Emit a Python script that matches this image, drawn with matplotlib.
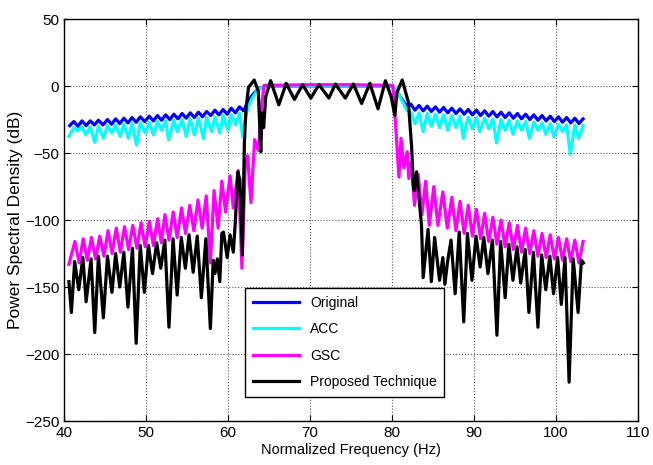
import matplotlib
matplotlib.use('Agg')
import matplotlib.pyplot as plt

plt.rcParams['font.family'] = ['Liberation Sans', 'DejaVu Sans']

# Original
blue_x = [40.7, 41.2, 41.7, 42.2, 42.7, 43.2, 43.7, 44.2, 44.75, 45.3, 45.8, 46.3, 46.8, 47.3, 47.8,
          48.3, 48.8, 49.3, 49.85, 50.4, 50.9, 51.4, 51.9, 52.4, 52.9, 53.4, 53.9, 54.4, 54.9, 55.4,
          55.9, 56.4, 56.9, 57.4, 57.9, 58.4, 58.9, 59.4, 59.9, 60.4, 60.9, 61.4, 61.9, 62.3, 62.8,
          63.3, 63.8, 64.4, 65.0, 70.0, 75.0, 80.0, 80.4, 80.9, 81.4, 81.8, 82.3, 82.8, 83.3, 83.8,
          84.3, 84.8, 85.3, 85.8, 86.3, 86.8, 87.3, 87.8, 88.3, 88.8, 89.3, 89.8, 90.3, 90.8, 91.3,
          91.8, 92.3, 92.8, 93.3, 93.8, 94.3, 94.8, 95.3, 95.8, 96.3, 96.8, 97.3, 97.8, 98.3, 98.8,
          99.3, 99.8, 100.3, 100.8, 101.3, 101.8, 102.3, 102.8, 103.3]
blue_y = [-29.5, -26.5, -30, -26, -29.5, -26, -29, -25.5, -29, -25, -28.5, -24.5, -28, -24, -27.5,
          -23.5, -27, -23, -26.5, -22.5, -26, -22, -25.5, -21.5, -25, -21, -24.5, -20.5, -24, -20,
          -23.5, -19.5, -23, -19, -22, -18, -21.5, -17.5, -21, -16.5, -20, -15.5, -18.5, -13, -8,
          -4.5, -2, -0.5, 0, 0, 0, 0, -2.5, -7, -11.5, -15, -13.5, -18, -14.5, -18.5,
          -15, -19, -15.5, -19.5, -16, -20, -16.5, -20.5, -17, -21, -17.5, -21.5, -18, -22, -18.5,
          -22.5, -19, -23, -19.5, -23.5, -20, -24, -20.5, -24.5, -21, -25, -21.5, -25.5, -22, -26,
          -22.5, -26.5, -23, -27, -23.5, -27.5, -24, -28, -24.5]

# ACC
cyan_x = [40.6, 41.2, 41.65, 42.2, 42.65, 43.2, 43.75, 44.2, 44.8, 45.3, 45.85, 46.3, 46.85, 47.3,
          47.85, 48.3, 48.85, 49.3, 49.9, 50.4, 50.9, 51.4, 51.9, 52.4, 52.75, 53.4, 53.8, 54.4,
          54.9, 55.4, 55.9, 56.4, 57.0, 57.4, 58.0, 58.4, 59.0, 59.4, 60.0, 60.4, 60.95, 61.4, 61.8,
          62.1, 62.5, 63.0, 63.5, 64.0, 64.7, 70.0, 75.0, 80.0, 80.3, 80.8, 81.3, 81.8, 82.3, 82.8,
          83.3, 83.8, 84.3, 84.8, 85.3, 85.8, 86.3, 86.8, 87.3, 87.8, 88.3, 88.7, 89.3, 89.8, 90.3,
          90.7, 91.3, 91.8, 92.3, 92.75, 93.3, 93.8, 94.3, 94.75, 95.3, 95.8, 96.3, 96.75, 97.3, 97.8,
          98.3, 98.75, 99.3, 99.75, 100.3, 100.8, 101.3, 101.75, 102.3, 102.75, 103.3]
cyan_y = [-37.5, -31, -33.5, -30.5, -36.5, -30.5, -42, -30, -39, -29.5, -35, -29, -37.5, -28.5,
          -39, -28, -44, -27.5, -35, -27, -36.5, -26.5, -33, -26, -40, -25.5, -34, -25,
          -37.5, -24.5, -36.5, -24, -39, -23.5, -34, -23, -35, -22, -33, -21.5, -29, -20.5, -38,
          -24, -15, -8.5, -4, -1.5, 0, 0, 0, 0, -1, -6, -12, -18, -19.5, -28,
          -20, -34, -20.5, -30, -21, -31, -21.5, -33, -22, -31, -22.5, -39, -23, -32, -23.5,
          -34, -24, -32, -24.5, -42.5, -25, -33, -25.5, -36, -26, -33, -26.5, -39, -27, -33,
          -27.5, -36, -28, -38, -28.5, -34, -29, -51, -29, -39, -29.5]

# GSC
mag_x = [40.6, 41.33, 41.85, 42.34, 42.85, 43.35, 43.85, 44.36, 44.87, 45.37, 45.87, 46.37, 46.88,
         47.38, 47.88, 48.39, 48.9, 49.4, 49.9, 50.41, 50.9, 51.42, 51.87, 52.31, 52.8, 53.32, 53.8,
         54.33, 54.83, 55.34, 55.84, 56.34, 56.85, 57.35, 57.85, 58.3, 58.8, 59.25, 59.7, 60.25,
         60.65, 61.25, 61.7, 62.1, 62.4, 62.8, 63.25, 63.7, 64.1, 64.4, 70.0, 75.0, 80.1, 80.4,
         80.85, 81.1, 81.45, 81.85, 82.05, 82.35, 82.75, 83.2, 83.65, 84.1, 84.55, 85.1, 85.6, 86.2,
         86.75, 87.3, 87.8, 88.3, 88.8, 89.3, 89.8, 90.3, 90.8, 91.3, 91.8, 92.3, 92.8, 93.3, 93.8,
         94.3, 94.8, 95.3, 95.8, 96.3, 96.8, 97.3, 97.8, 98.3, 98.8, 99.3, 99.8, 100.3, 100.8,
         101.3, 101.8, 102.3, 102.8, 103.3]
mag_y = [-133, -116, -132, -114, -130, -113, -129, -112, -127, -108, -125, -106, -124,
         -105, -122, -104, -121, -102, -120, -101, -119, -99, -117, -96, -115, -94, -113,
         -91, -110, -89, -108, -85, -106, -82, -132, -78, -106, -71, -94, -67,
         -91, -63, -136, -60, -52, -87, -40, -48, -15, 0.5, 1, 1, 0.5, -25,
         -68, -39, -61, -49, -69, -57, -89, -66, -96, -71, -104, -75, -104, -79,
         -106, -83, -108, -86, -110, -89, -112, -92, -114, -95, -116, -98, -118, -100, -120,
         -102, -122, -104, -124, -106, -125, -108, -127, -110, -128, -111, -129, -113, -130,
         -114, -131, -115, -132, -116]

# Proposed Technique
blk_x = [40.6, 40.9, 41.3, 41.8, 42.3, 42.7, 43.3, 43.75, 44.2, 44.8, 45.3, 45.85, 46.3, 46.8,
         47.3, 47.8, 48.35, 48.8, 49.3, 49.8, 50.3, 50.8, 51.3, 51.8, 52.3, 52.8, 53.3, 53.8, 54.3,
         54.8, 55.25, 55.75, 56.25, 56.75, 57.3, 57.85, 58.2, 58.4, 58.7, 59.0, 59.25, 59.45, 59.9,
         60.25, 60.65, 60.9, 61.2, 61.45, 61.75, 62.0, 62.2, 62.5, 63.2, 63.7, 64.0, 64.15, 64.35,
         64.6, 65.2, 66.2, 67.1, 68.1, 69.1, 70.1, 71.1, 72.3, 73.1, 74.3, 75.3, 76.3, 77.3, 78.3,
         79.2, 79.9, 80.35, 80.6, 81.25, 82.0, 82.4, 82.6, 82.7, 83.0, 83.6, 83.8, 84.4, 84.8, 85.2,
         85.8, 86.2, 86.45, 86.8, 87.2, 87.7, 88.2, 88.75, 89.2, 89.75, 90.25, 90.75, 91.2, 91.7,
         92.25, 92.8, 93.25, 93.8, 94.25, 94.75, 95.25, 95.7, 96.25, 96.7, 97.25, 97.8, 98.25,
         98.75, 99.25, 99.7, 100.2, 100.65, 101.1, 101.6, 102.1, 102.7, 103.1, 103.35]
blk_y = [-146, -169, -131, -152, -128, -161, -129, -184, -127, -173, -127, -154, -125, -150,
         -124, -165, -121, -192, -119, -154, -119, -140, -117, -136, -115, -180, -114, -156, -113,
         -136, -111, -139, -112, -158, -114, -181, -130, -140, -129, -146, -110, -109, -128,
         -111, -124, -101, -64, -70, -126, -42, -17, -1, 4.5, -4, -49, -20, -31,
         -8, 4, -14, 2, -10, 1, -9, 1, -9, 1.5, -9, 1.5, -13, 2, -17,
         4, -8, -22, -5, 4.5, -12, -46, -74, -78, -64, -104, -143, -107, -146, -113,
         -145, -128, -148, -130, -115, -155, -109, -176, -110, -145, -112, -135, -113, -140,
         -115, -186, -116, -158, -118, -145, -120, -147, -122, -169, -124, -180, -126,
         -152, -127, -155, -128, -163, -128, -221, -129, -169, -130, -132]

fig = plt.figure(figsize=(6.53, 4.65), dpi=100)
ax = fig.add_axes([0.098, 0.0946, 0.879, 0.8644])

lw = 2.3
ax.plot(blue_x, blue_y, color='#0000ff', lw=lw, label='Original', solid_joinstyle='round')
ax.plot(cyan_x, cyan_y, color='#00ffff', lw=lw, label='ACC', solid_joinstyle='round')
ax.plot(mag_x, mag_y, color='#ff00ff', lw=lw, label='GSC', solid_joinstyle='round')
ax.plot(blk_x, blk_y, color='black', lw=lw, label='Proposed Technique', solid_joinstyle='round')

ax.set_xlim(40, 110)
ax.set_ylim(-250, 50)
ax.set_xticks(range(40, 111, 10))
ax.set_yticks(range(-250, 51, 50))
ax.grid(True, color='0.35', linestyle=':', linewidth=0.8)
ax.tick_params(direction='in', top=True, right=True, length=4, labelsize=11)
for s in ax.spines.values():
    s.set_linewidth(1.0)

ax.set_xlabel('Normalized Frequency (Hz)', fontsize=10.5, labelpad=2)
ax.set_ylabel('Power Spectral Density (dB)', fontsize=12.5, labelpad=1)

leg = ax.legend(loc='lower left', bbox_to_anchor=(0.316, 0.06), fontsize=10,
                fancybox=False, framealpha=1, edgecolor='black', handlelength=3.3,
                labelspacing=0.9, borderpad=0.55, borderaxespad=0)
leg.get_frame().set_linewidth(1.0)

fig.savefig('out.png', dpi=100)
